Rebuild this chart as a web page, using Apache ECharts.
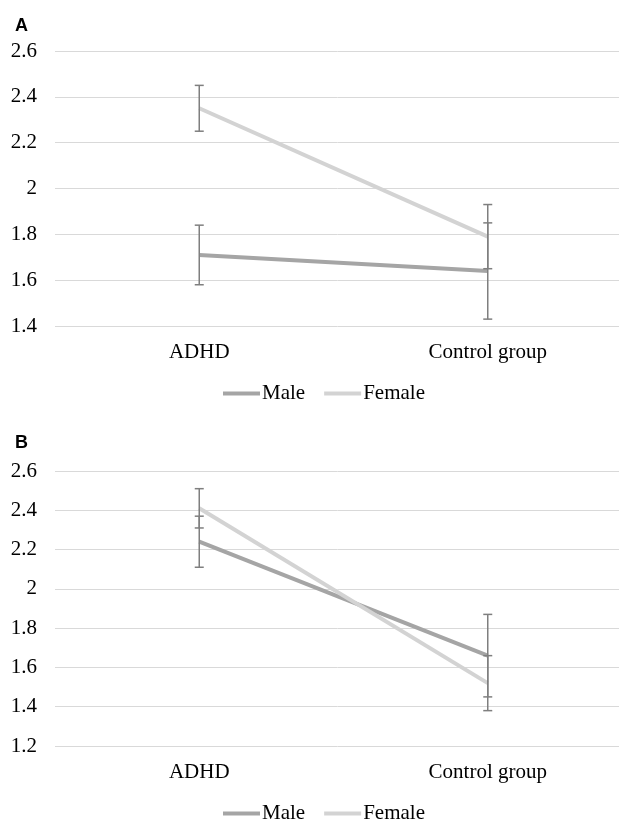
<!DOCTYPE html>
<html>
<head>
<meta charset="utf-8">
<script src="https://cdn.jsdelivr.net/npm/echarts@6/dist/echarts.min.js"></script>
<style>html,body{margin:0;padding:0;background:#fff}#c{width:619px;height:823px}</style>
</head>
<body>
<div id="c"></div>
<script>
const categories = ['ADHD', 'Control group'];
const seriesNames = ['Male', 'Female'];
// Panel A
const maleA = [1.71, 1.64];
const femaleA = [2.35, 1.79];
const maleErrA = [0.13, 0.21];
const femaleErrA = [0.10, 0.14];
// Panel B
const maleB = [2.24, 1.66];
const femaleB = [2.41, 1.52];
const maleErrB = [0.13, 0.21];
const femaleErrB = [0.10, 0.14];

const FONT = '"Liberation Serif", "Times New Roman", serif';
const MALE_C = '#a5a5a5', FEMALE_C = '#d3d3d3', ERR_C = '#7f7f7f';

function errData(means, errs) {
  return means.map((m, i) => [i, m - errs[i], m + errs[i]]);
}
function errSeries(idx, means, errs) {
  return {
    type: 'custom', xAxisIndex: idx, yAxisIndex: idx, z: 5, silent: true, clip: false,
    data: errData(means, errs),
    renderItem: function (params, api) {
      const x = api.value(0);
      const lo = api.coord([x, api.value(1)]);
      const hi = api.coord([x, api.value(2)]);
      const st = { stroke: ERR_C, lineWidth: 1.5 };
      const w = 4.5;
      return {
        type: 'group', children: [
          { type: 'line', shape: { x1: lo[0], y1: lo[1], x2: hi[0], y2: hi[1] }, style: st },
          { type: 'line', shape: { x1: lo[0] - w, y1: lo[1], x2: lo[0] + w, y2: lo[1] }, style: st },
          { type: 'line', shape: { x1: hi[0] - w, y1: hi[1], x2: hi[0] + w, y2: hi[1] }, style: st }
        ]
      };
    }
  };
}
function lineSeries(idx, name, data, color) {
  return {
    type: 'line', name: name, xAxisIndex: idx, yAxisIndex: idx, data: data,
    symbol: 'none', lineStyle: { color: color, width: 4 }, itemStyle: { color: color }, z: 3
  };
}
function xAxis(idx) {
  return {
    type: 'category', gridIndex: idx, data: categories, boundaryGap: true,
    axisLine: { show: false }, axisTick: { show: false },
    axisLabel: { fontFamily: FONT, fontSize: 21, color: '#000', margin: 16 }
  };
}
function yAxis(idx, min, max) {
  return {
    type: 'value', gridIndex: idx, min: min, max: max, interval: 0.2,
    axisLine: { show: false }, axisTick: { show: false },
    splitLine: { lineStyle: { color: '#d9d9d9', width: 1 } },
    axisLabel: { fontFamily: FONT, fontSize: 21, color: '#000', margin: 18 }
  };
}
const legendCommon = {
  data: seriesNames, icon: 'rect', itemWidth: 37, itemHeight: 4, itemGap: 19,
  textStyle: { fontFamily: FONT, fontSize: 21, color: '#000', padding: [0, 0, 0, -3] },
  left: 223, padding: 0, selectedMode: false
};

const chart = echarts.init(document.getElementById('c'));
chart.setOption({
  animation: false,
  title: [
    { text: 'A', left: 15, top: 17, textStyle: { fontFamily: '"Liberation Sans", Arial, sans-serif', fontWeight: 'bold', fontSize: 18, color: '#000' }, padding: 0 },
    { text: 'B', left: 15, top: 434, textStyle: { fontFamily: '"Liberation Sans", Arial, sans-serif', fontWeight: 'bold', fontSize: 18, color: '#000' }, padding: 0 }
  ],
  grid: [
    { left: 55, width: 577, top: 51, height: 275, outerBoundsMode: 'none', containLabel: false },
    { left: 55, width: 577, top: 471, height: 275, outerBoundsMode: 'none', containLabel: false }
  ],
  xAxis: [xAxis(0), xAxis(1)],
  yAxis: [yAxis(0, 1.4, 2.6), yAxis(1, 1.2, 2.6)],
  legend: [
    Object.assign({}, legendCommon, { top: 383 }),
    Object.assign({}, legendCommon, { top: 803 })
  ],
  series: [
    lineSeries(0, 'Male', maleA, MALE_C),
    lineSeries(0, 'Female', femaleA, FEMALE_C),
    errSeries(0, maleA, maleErrA),
    errSeries(0, femaleA, femaleErrA),
    lineSeries(1, 'Male', maleB, MALE_C),
    lineSeries(1, 'Female', femaleB, FEMALE_C),
    errSeries(1, maleB, maleErrB),
    errSeries(1, femaleB, femaleErrB)
  ]
});
</script>
</body>
</html>
